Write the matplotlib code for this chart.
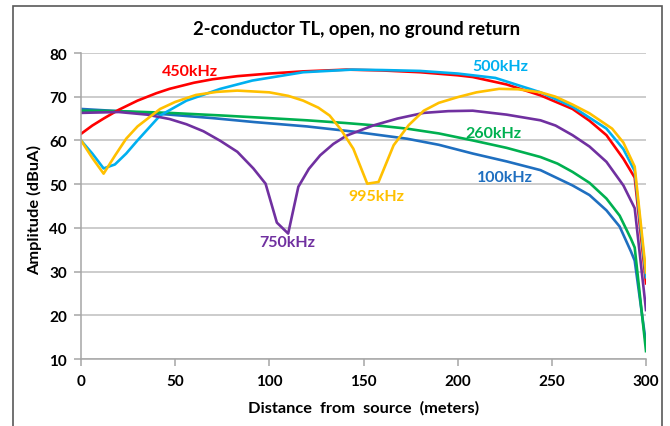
import matplotlib
matplotlib.use("Agg")
import matplotlib.pyplot as plt
from matplotlib.patches import Rectangle

plt.rcParams['font.family'] = ['Lato', 'DejaVu Sans']
plt.rcParams['font.weight'] = 'bold'

# distance (m) / amplitude (dBuA) for each frequency
x_100 = [0, 20, 47, 70, 92, 120, 145, 173, 190, 208, 226, 244, 261, 270, 279, 286, 292, 294, 300]
y_100 = [67.2, 66.7, 65.9, 65.1, 64.2, 63.2, 62.0, 60.4, 59.0, 57.0, 55.2, 53.2, 49.7, 47.5, 44.0, 40.3, 34.6, 32.5, 13.5]

x_260 = [0, 20, 47, 75, 100, 120, 140, 160, 173, 190, 208, 226, 244, 253, 261, 270, 279, 286, 292, 294, 300]
y_260 = [66.8, 66.7, 66.3, 65.7, 65.1, 64.6, 64.0, 63.3, 62.7, 61.6, 60.0, 58.3, 56.2, 54.7, 52.8, 50.3, 46.7, 42.8, 37.5, 35.5, 11.8]

x_450 = [0, 6, 12, 20, 30, 40, 47, 60, 70, 83, 100, 118, 141, 160, 180, 200, 208, 226, 244, 261, 270, 279, 288, 294, 300]
y_450 = [61.5, 63.4, 65.0, 67.0, 69.1, 70.8, 71.8, 73.2, 74.0, 74.7, 75.3, 75.8, 76.2, 76.0, 75.6, 74.9, 74.5, 72.8, 70.3, 67.2, 64.5, 61.2, 55.8, 51.5, 27.3]

x_500 = [0, 6, 12, 18, 24, 30, 42, 56, 74, 91, 118, 144, 160, 180, 200, 220, 244, 261, 279, 288, 294, 300]
y_500 = [60.0, 57.0, 53.6, 54.5, 57.0, 60.0, 65.7, 69.1, 71.8, 73.7, 75.6, 76.2, 76.1, 75.9, 75.3, 74.3, 71.0, 67.7, 62.7, 58.0, 53.0, 28.7]

x_750 = [0, 20, 35, 47, 56, 65, 74, 83, 91.5, 98, 104, 110, 115.4, 121, 127, 134, 141, 155, 168, 182, 195, 208, 226, 244, 252, 261, 270, 279, 288, 294, 300]
y_750 = [66.3, 66.5, 65.9, 64.9, 63.7, 62.1, 59.9, 57.4, 53.6, 50.1, 41.2, 38.7, 49.4, 53.5, 56.6, 59.2, 61.1, 63.4, 65.0, 66.3, 66.7, 66.8, 65.9, 64.6, 63.4, 61.2, 58.6, 55.1, 49.7, 44.5, 21.2]

x_995 = [0, 6, 12, 18, 24, 30, 42, 50, 61, 72, 83, 100, 110, 118, 126, 132, 138, 144.6, 152, 158, 166, 174, 182, 190, 200, 210, 222, 232, 244, 252, 261, 270, 282, 288, 294, 300]
y_995 = [60.0, 56.0, 52.4, 56.5, 60.4, 63.2, 67.2, 68.8, 70.4, 71.1, 71.4, 71.0, 70.2, 69.1, 67.5, 65.7, 62.5, 58.1, 50.1, 50.5, 58.9, 63.5, 66.8, 68.6, 69.9, 71.0, 71.8, 71.7, 71.0, 70.0, 68.2, 66.2, 62.7, 59.5, 54.0, 29.8]

series = [
    (x_100, y_100, '#1F6FC0', '100kHz', 225, 51.7),
    (x_260, y_260, '#00B050', '260kHz', 218.8, 61.8),
    (x_450, y_450, '#FF0000', '450kHz', 57.9, 75.9),
    (x_500, y_500, '#00B0F0', '500kHz', 222.5, 77.0),
    (x_750, y_750, '#7030A0', '750kHz', 109.4, 36.7),
    (x_995, y_995, '#FFC000', '995kHz', 156.7, 47.4),
]

fig = plt.figure(figsize=(6.7, 4.27), dpi=100)
ax = fig.add_axes([81 / 670, 1 - 360 / 427, 565 / 670, 306 / 427])

for xs, ys, c, name, lx, ly in series:
    ax.plot(xs, ys, color=c, lw=1.9, solid_joinstyle='round')
    ax.text(lx, ly, name, color=c, fontsize=11.5, fontweight='bold', ha='center', va='center')

ax.set_xlim(0, 300)
ax.set_ylim(10, 80)
ax.set_xticks(range(0, 301, 50))
ax.set_yticks(range(10, 81, 10))
ax.yaxis.grid(True, color='#BFBFBF', lw=1.1)
ax.set_axisbelow(True)
for s in ['top', 'right']:
    ax.spines[s].set_visible(False)
for s in ['left', 'bottom']:
    ax.spines[s].set_color('#A6A6A6')
    ax.spines[s].set_linewidth(1.1)
ax.tick_params(axis='both', colors='#A6A6A6', length=5, width=1.1, labelcolor='black', labelsize=11)
ax.tick_params(axis='x', pad=6)
ax.tick_params(axis='y', pad=5)
for lab in ax.get_xticklabels() + ax.get_yticklabels():
    lab.set_fontweight('bold')

fig.text(357 / 670, 1 - 30 / 427, '2-conductor TL, open, no ground return',
         ha='center', va='center', fontsize=13.3, fontweight='bold')
fig.text(35 / 670, 1 - 210 / 427, 'Amplitude (dBuA)', rotation=90,
         ha='center', va='center', fontsize=11.8, fontweight='bold')
fig.text(364 / 670, 1 - 408 / 427, 'Distance  from  source  (meters)',
         ha='center', va='center', fontsize=11.8, fontweight='bold')

fig.patches.append(Rectangle((13 / 670, -0.01), 649 / 670, 1 - 7 / 427 + 0.01,
                             transform=fig.transFigure, fill=False,
                             edgecolor='#595959', lw=1.2))

fig.savefig('out.png', dpi=100)
